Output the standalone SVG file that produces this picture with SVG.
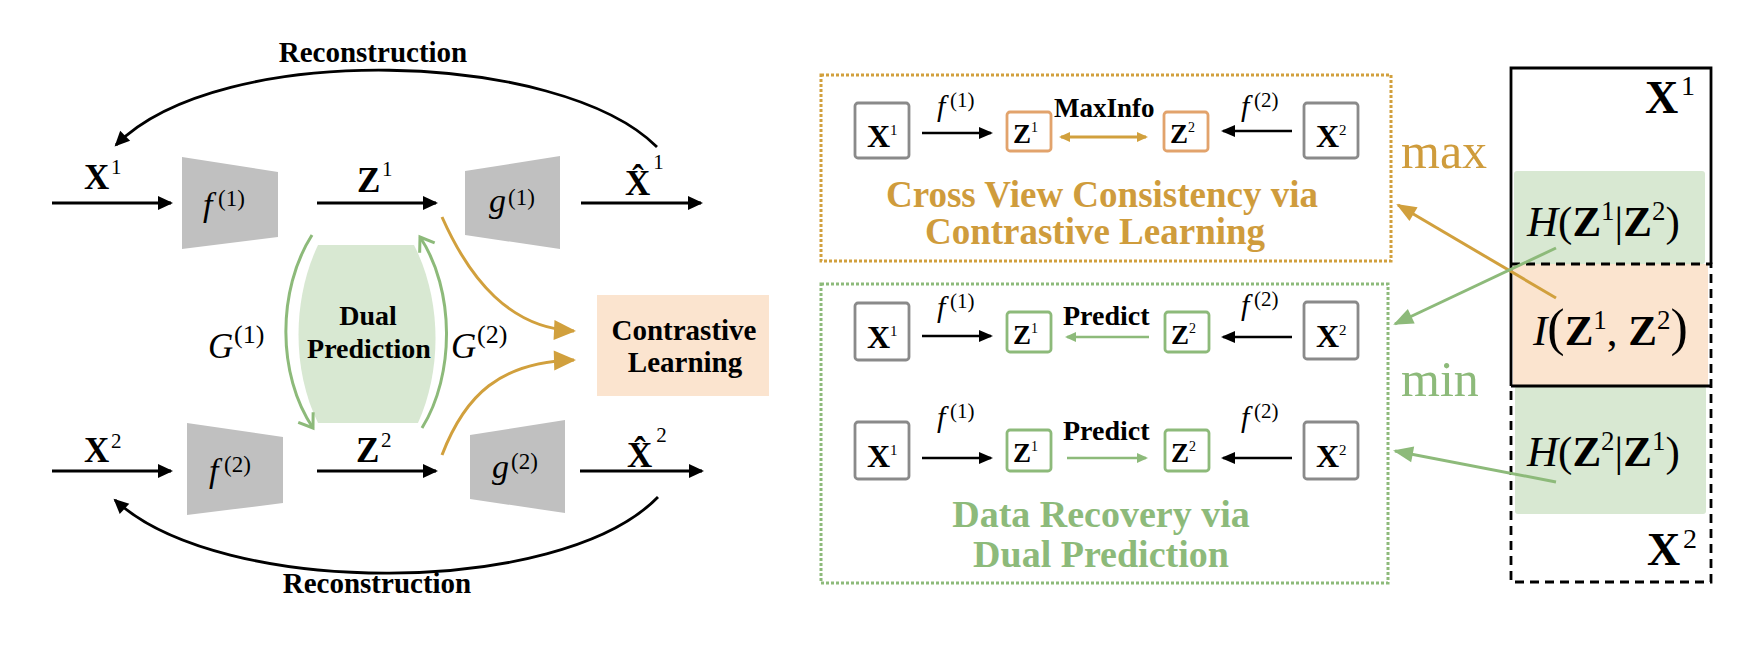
<svg xmlns="http://www.w3.org/2000/svg" width="1757" height="659" viewBox="0 0 1757 659">
<style>
text{font-family:"Liberation Serif","Times New Roman",serif;fill:#000}
.b{font-weight:bold}
.it{font-style:italic}
.trap{fill:#c0c0c0}
.ln{fill:none;stroke:#000;stroke-width:2.6}
.lnw{fill:none;stroke:#000;stroke-width:2.8}
.gold{fill:none;stroke:#d1a03d;stroke-width:3}
.grn{fill:none;stroke:#8dba7a;stroke-width:3}
.gthin{fill:none;stroke:#8dba7a;stroke-width:2.6}
.gbox{fill:#fff;stroke:#8a8a8a;stroke-width:2.8}
.obox{fill:#fff;stroke:#e2a36c;stroke-width:2.8}
.grbox{fill:#fff;stroke:#8dba7a;stroke-width:2.8}
.dotO{fill:none;stroke:#d1a03d;stroke-width:3;stroke-dasharray:3 2}
.dotG{fill:none;stroke:#8dba7a;stroke-width:3;stroke-dasharray:3 2}
.tgold{fill:#cf9c3c}
.tgrn{fill:#8dba7a}
</style>
<defs>
<marker id="mb" markerUnits="userSpaceOnUse" markerWidth="20" markerHeight="20" refX="13" refY="7" orient="auto" overflow="visible"><path d="M0,0 L15,7 L0,14 z" fill="#000"/></marker>
<marker id="mbs" markerUnits="userSpaceOnUse" markerWidth="20" markerHeight="20" refX="12" refY="6" orient="auto" overflow="visible"><path d="M0,0 L14,6 L0,12 z" fill="#000"/></marker>
<marker id="mo" markerUnits="userSpaceOnUse" markerWidth="30" markerHeight="30" refX="20" refY="10" orient="auto" overflow="visible"><path d="M0,0 L22,10 L0,20 z" fill="#d1a03d"/></marker>
<marker id="mo2" markerUnits="userSpaceOnUse" markerWidth="20" markerHeight="20" refX="9" refY="5" orient="auto-start-reverse" overflow="visible"><path d="M0,0 L11,5 L0,10 z" fill="#d1a03d"/></marker>
<marker id="mg2" markerUnits="userSpaceOnUse" markerWidth="20" markerHeight="20" refX="9" refY="5" orient="auto" overflow="visible"><path d="M0,0 L11,5 L0,10 z" fill="#8dba7a"/></marker>
<marker id="mg" markerUnits="userSpaceOnUse" markerWidth="30" markerHeight="30" refX="18" refY="8" orient="auto" overflow="visible"><path d="M0,0 L20,8 L0,16 z" fill="#8dba7a"/></marker>
<marker id="mo3" markerUnits="userSpaceOnUse" markerWidth="30" markerHeight="30" refX="18" refY="8" orient="auto" overflow="visible"><path d="M0,0 L20,8 L0,16 z" fill="#d1a03d"/></marker>
<marker id="mgo" markerUnits="userSpaceOnUse" markerWidth="30" markerHeight="30" refX="13" refY="9" orient="auto" overflow="visible"><path d="M0,0 L13,9 L0,18" fill="none" stroke="#8dba7a" stroke-width="3"/></marker>
</defs>
<rect width="1757" height="659" fill="#fff"/>

<!-- Left: dual prediction region -->
<g id="dual-prediction">
<path d="M318,245 L414,245 C442,300 442,370 418,423 L318,423 C292,370 292,300 318,245 Z" fill="#d8e8d2"/>
<text class="b" x="368" y="325" font-size="28" text-anchor="middle">Dual</text>
<text class="b" x="369" y="358" font-size="28" text-anchor="middle">Prediction</text>
</g>

<g id="contrastive-learning">
<rect x="597" y="295" width="172" height="101" fill="#fbe4cf"/>
<text class="b" x="684" y="340" font-size="29" text-anchor="middle">Contrastive</text>
<text class="b" x="685" y="372" font-size="29" text-anchor="middle">Learning</text>
</g>

<g id="f1"><polygon class="trap" points="182,157 278,172 278,237 182,249"/>
<text class="it" x="203" y="216" font-size="34">f</text><text x="218" y="206" font-size="23">(1)</text></g>
<g id="g1"><polygon class="trap" points="465,171 560,156 560,249 465,235"/>
<text class="it" x="489" y="212" font-size="34">g</text><text x="508" y="205" font-size="23">(1)</text></g>
<g id="f2"><polygon class="trap" points="187,423 283,437 283,503 187,515"/>
<text class="it" x="209" y="482" font-size="34">f</text><text x="224" y="472" font-size="23">(2)</text></g>
<g id="g2"><polygon class="trap" points="470,435 565,420 565,513 470,499"/>
<text class="it" x="492" y="478" font-size="34">g</text><text x="511" y="469" font-size="23">(2)</text></g>

<g id="lbl-x1"><text class="b" x="84" y="189" font-size="35">X</text><text x="111" y="174" font-size="21">1</text></g>
<g id="lbl-z1"><text class="b" x="357" y="192" font-size="35">Z</text><text x="382" y="176" font-size="21">1</text></g>
<g id="lbl-xh1"><text class="b" x="625" y="195" font-size="35">X&#x302;<tspan font-weight="normal" font-size="21" dx="3" dy="-26">1</tspan></text></g>
<g id="lbl-x2"><text class="b" x="84" y="462" font-size="35">X</text><text x="111" y="448" font-size="21">2</text></g>
<g id="lbl-z2"><text class="b" x="356" y="462" font-size="35">Z</text><text x="381" y="447" font-size="21">2</text></g>
<g id="lbl-xh2"><text class="b" x="627" y="467" font-size="35">X&#x302;<tspan font-weight="normal" font-size="21" dx="4" dy="-25">2</tspan></text></g>
<g id="lbl-G1"><text class="it" x="208" y="358" font-size="35">G</text><text x="234" y="343" font-size="26">(1)</text></g>
<g id="lbl-G2"><text class="it" x="451" y="358" font-size="35">G</text><text x="477" y="343" font-size="26">(2)</text></g>
<g id="lbl-rec"><text class="b" x="373" y="62" font-size="29" text-anchor="middle">Reconstruction</text>
<text class="b" x="377" y="593" font-size="29" text-anchor="middle">Reconstruction</text></g>

<!-- Right: boxes -->
<g id="cross-view-box">
<rect class="dotO" x="821" y="75" width="570" height="186"/>
<text class="b tgold" x="1102" y="207" font-size="37" text-anchor="middle">Cross View Consistency via</text>
<text class="b tgold" x="1095" y="244" font-size="37" text-anchor="middle">Contrastive Learning</text>
<text class="b" x="1054" y="117" font-size="27">MaxInfo</text>
</g>
<g id="data-recovery-box">
<rect class="dotG" x="821" y="284" width="567" height="299"/>
<text class="b tgrn" x="1101" y="527" font-size="38" text-anchor="middle">Data Recovery via</text>
<text class="b tgrn" x="1101" y="567" font-size="38" text-anchor="middle">Dual Prediction</text>
<text class="b" x="1063" y="325" font-size="28">Predict</text>
<text class="b" x="1063" y="440" font-size="28">Predict</text>
</g>

<g id="r0-x1"><rect class="gbox" x="855" y="103" width="54" height="55" rx="3"/><text class="b" x="867" y="147" font-size="32">X</text><text x="890" y="135" font-size="15">1</text></g>
<g id="r0-z1"><rect class="obox" x="1007" y="112" width="44" height="39" rx="3"/><text class="b" x="1013" y="143" font-size="27">Z</text><text x="1031" y="132" font-size="14">1</text></g>
<g id="r0-z2"><rect class="obox" x="1164" y="112" width="44" height="39" rx="3"/><text class="b" x="1170" y="143" font-size="27">Z</text><text x="1188" y="132" font-size="14">2</text></g>
<g id="r0-x2"><rect class="gbox" x="1304" y="103" width="54" height="55" rx="3"/><text class="b" x="1316" y="147" font-size="32">X</text><text x="1339" y="135" font-size="15">2</text></g>
<g id="r0-f"><text class="it" x="937" y="116" font-size="30">f</text><text x="950" y="107" font-size="21">(1)</text>
<text class="it" x="1241" y="116" font-size="30">f</text><text x="1254" y="107" font-size="21">(2)</text></g>

<g id="r1-x1"><rect class="gbox" x="855" y="303" width="54" height="57" rx="3"/><text class="b" x="867" y="348" font-size="32">X</text><text x="890" y="336" font-size="15">1</text></g>
<g id="r1-z1"><rect class="grbox" x="1007" y="312" width="44" height="40" rx="3"/><text class="b" x="1013" y="344" font-size="27">Z</text><text x="1031" y="333" font-size="14">1</text></g>
<g id="r1-z2"><rect class="grbox" x="1165" y="312" width="44" height="40" rx="3"/><text class="b" x="1171" y="344" font-size="27">Z</text><text x="1189" y="333" font-size="14">2</text></g>
<g id="r1-x2"><rect class="gbox" x="1304" y="302" width="54" height="57" rx="3"/><text class="b" x="1316" y="347" font-size="32">X</text><text x="1339" y="335" font-size="15">2</text></g>
<g id="r1-f"><text class="it" x="937" y="317" font-size="30">f</text><text x="950" y="308" font-size="21">(1)</text>
<text class="it" x="1241" y="315" font-size="30">f</text><text x="1254" y="306" font-size="21">(2)</text></g>

<g id="r2-x1"><rect class="gbox" x="855" y="422" width="54" height="57" rx="3"/><text class="b" x="867" y="467" font-size="32">X</text><text x="890" y="455" font-size="15">1</text></g>
<g id="r2-z1"><rect class="grbox" x="1007" y="430" width="44" height="41" rx="3"/><text class="b" x="1013" y="462" font-size="27">Z</text><text x="1031" y="451" font-size="14">1</text></g>
<g id="r2-z2"><rect class="grbox" x="1165" y="430" width="44" height="41" rx="3"/><text class="b" x="1171" y="462" font-size="27">Z</text><text x="1189" y="451" font-size="14">2</text></g>
<g id="r2-x2"><rect class="gbox" x="1304" y="422" width="54" height="57" rx="3"/><text class="b" x="1316" y="467" font-size="32">X</text><text x="1339" y="455" font-size="15">2</text></g>
<g id="r2-f"><text class="it" x="937" y="427" font-size="30">f</text><text x="950" y="418" font-size="21">(1)</text>
<text class="it" x="1241" y="427" font-size="30">f</text><text x="1254" y="418" font-size="21">(2)</text></g>

<!-- Right column: information diagram -->
<g id="info-diagram">
<rect x="1514" y="171" width="191" height="93" rx="3" fill="#d8e8d2"/>
<rect x="1513" y="264" width="195" height="122" fill="#fbe4cf"/>
<rect x="1515" y="386" width="191" height="128" rx="3" fill="#d8e8d2"/>
<path d="M1511,386 V68 H1711 V264" fill="none" stroke="#000" stroke-width="2.8"/>
<line x1="1511" y1="386" x2="1711" y2="386" stroke="#000" stroke-width="2.8"/>
<path d="M1511,264 H1711 V582 H1511 V386" fill="none" stroke="#000" stroke-width="2.8" stroke-dasharray="9 6"/>
<text class="b" x="1645" y="113" font-size="46">X</text><text x="1681" y="95" font-size="28">1</text>
<text class="b" x="1647" y="565" font-size="46">X</text><text x="1683" y="548" font-size="28">2</text>
<text x="1527" y="236" font-size="43"><tspan class="it">H</tspan><tspan>(</tspan><tspan class="b">Z</tspan><tspan font-size="27" dy="-16">1</tspan><tspan dy="16">|</tspan><tspan class="b">Z</tspan><tspan font-size="27" dy="-16">2</tspan><tspan dy="16">)</tspan></text>
<text x="1533" y="345" font-size="43"><tspan class="it">I</tspan><tspan font-size="52">(</tspan><tspan class="b">Z</tspan><tspan font-size="27" dy="-16">1</tspan><tspan dy="16">, </tspan><tspan class="b">Z</tspan><tspan font-size="27" dy="-16">2</tspan><tspan dy="16" font-size="52">)</tspan></text>
<text x="1527" y="466" font-size="43"><tspan class="it">H</tspan><tspan>(</tspan><tspan class="b">Z</tspan><tspan font-size="27" dy="-16">2</tspan><tspan dy="16">|</tspan><tspan class="b">Z</tspan><tspan font-size="27" dy="-16">1</tspan><tspan dy="16">)</tspan></text>
</g>
<g id="lbl-max"><text class="tgold" x="1401" y="168" font-size="50">max</text></g>
<g id="lbl-min"><text class="tgrn" x="1401" y="396" font-size="50">min</text></g>

<g id="connectors">
<line class="lnw" x1="52" y1="203" x2="171" y2="203" marker-end="url(#mb)"/>
<line class="lnw" x1="317" y1="203" x2="436" y2="203" marker-end="url(#mb)"/>
<line class="lnw" x1="581" y1="203" x2="701" y2="203" marker-end="url(#mb)"/>
<line class="lnw" x1="52" y1="471" x2="171" y2="471" marker-end="url(#mb)"/>
<line class="lnw" x1="317" y1="471" x2="436" y2="471" marker-end="url(#mb)"/>
<line class="lnw" x1="580" y1="471" x2="702" y2="471" marker-end="url(#mb)"/>
<path class="lnw" d="M657,147 C560,50 220,40 116,145" marker-end="url(#mb)"/>
<path class="lnw" d="M658,497 C560,598 220,598 115,500" marker-end="url(#mb)"/>
<path class="grn" d="M312,235 C277,290 277,375 313,428" marker-end="url(#mgo)"/>
<path class="grn" d="M422,428 C455,375 455,290 420,237" marker-end="url(#mgo)"/>
<path class="gold" d="M442,217 C470,280 510,328 574,331" marker-end="url(#mo)"/>
<path class="gold" d="M442,455 C465,395 500,362 574,360" marker-end="url(#mo)"/>

<line class="ln" x1="922" y1="133" x2="991" y2="133" marker-end="url(#mbs)"/>
<line class="gold" stroke-width="2.6" x1="1061" y1="137" x2="1146" y2="137" marker-start="url(#mo2)" marker-end="url(#mo2)"/>
<line class="ln" x1="1292" y1="131" x2="1223" y2="131" marker-end="url(#mbs)"/>

<line class="ln" x1="922" y1="336" x2="991" y2="336" marker-end="url(#mbs)"/>
<line class="gthin" x1="1149" y1="337" x2="1067" y2="337" marker-end="url(#mg2)"/>
<line class="ln" x1="1292" y1="337" x2="1223" y2="337" marker-end="url(#mbs)"/>

<line class="ln" x1="922" y1="458" x2="991" y2="458" marker-end="url(#mbs)"/>
<line class="gthin" x1="1067" y1="458" x2="1146" y2="458" marker-end="url(#mg2)"/>
<line class="ln" x1="1292" y1="458" x2="1223" y2="458" marker-end="url(#mbs)"/>

<line class="gold" stroke-width="2.6" x1="1556" y1="298" x2="1398" y2="205" marker-end="url(#mo3)"/>
<line class="grn" stroke-width="2.6" x1="1556" y1="248" x2="1395" y2="324" marker-end="url(#mg)"/>
<line class="grn" stroke-width="2.6" x1="1556" y1="482" x2="1395" y2="451" marker-end="url(#mg)"/>
</g>
</svg>
